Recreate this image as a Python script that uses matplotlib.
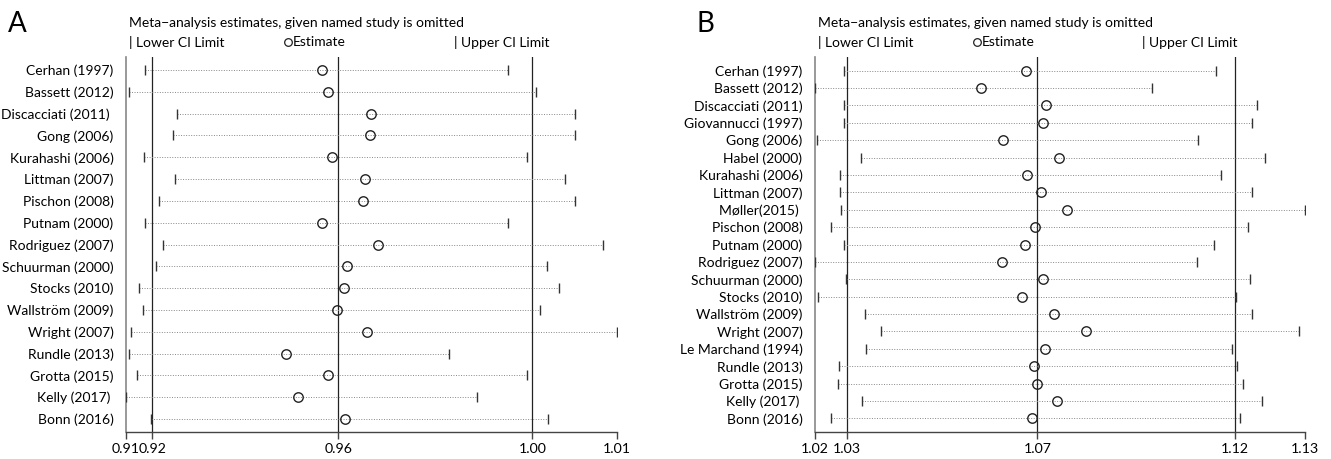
import matplotlib
matplotlib.use("Agg")
import matplotlib.pyplot as plt

plt.rcParams['font.family'] = ['Lato', 'DejaVu Sans']

# panel A: study omitted -> (lower CI, estimate, upper CI)
studies_a = ['Cerhan (1997)', 'Bassett (2012)', 'Discacciati (2011) ', 'Gong (2006)',
             'Kurahashi (2006)', 'Littman (2007)', 'Pischon (2008)', 'Putnam (2000)',
             'Rodriguez (2007)', 'Schuurman (2000)', 'Stocks (2010)', 'Wallström (2009)',
             'Wright (2007)', 'Rundle (2013)', 'Grotta (2015)', 'Kelly (2017) ', 'Bonn (2016)']
lower_a = [0.9144, 0.9112, 0.9212, 0.9203, 0.9143, 0.9207, 0.9175, 0.9145, 0.9182,
           0.9168, 0.9132, 0.9141, 0.9115, 0.9112, 0.9129, 0.9105, 0.9157]
est_a = [0.9518, 0.9531, 0.9621, 0.9618, 0.9538, 0.9609, 0.9604, 0.9518, 0.9635,
         0.9571, 0.9564, 0.9550, 0.9612, 0.9442, 0.9531, 0.9467, 0.9566]
upper_a = [0.9908, 0.9969, 1.0050, 1.0050, 0.9949, 1.0028, 1.0051, 0.9908, 1.0110,
           0.9992, 1.0016, 0.9976, 1.0138, 0.9784, 0.9949, 0.9844, 0.9993]
overall_a = [0.9160, 0.9552, 0.9960]  # lower, estimate, upper

# panel B
studies_b = ['Cerhan (1997)', 'Bassett (2012)', 'Discacciati (2011)', 'Giovannucci (1997)',
             'Gong (2006)', 'Habel (2000)', 'Kurahashi (2006)', 'Littman (2007)',
             'Møller(2015) ', 'Pischon (2008)', 'Putnam (2000)', 'Rodriguez (2007)',
             'Schuurman (2000)', 'Stocks (2010)', 'Wallström (2009)', 'Wright (2007)',
             'Le Marchand (1994)', 'Rundle (2013)', 'Grotta (2015)', 'Kelly (2017) ', 'Bonn (2016)']
lower_b = [1.0263, 1.0196, 1.0263, 1.0263, 1.0201, 1.0302, 1.0255, 1.0254, 1.0256,
           1.0233, 1.0264, 1.0197, 1.0267, 1.0202, 1.0311, 1.0349, 1.0314, 1.0252,
           1.0250, 1.0305, 1.0234]
est_b = [1.0686, 1.0581, 1.0733, 1.0726, 1.0633, 1.0762, 1.0688, 1.0721, 1.0781,
         1.0707, 1.0684, 1.0631, 1.0726, 1.0677, 1.0750, 1.0824, 1.0730, 1.0705,
         1.0711, 1.0758, 1.0699]
upper_b = [1.1126, 1.0978, 1.1222, 1.1209, 1.1085, 1.1241, 1.1139, 1.1211, 1.1333,
           1.1201, 1.1121, 1.1083, 1.1205, 1.1172, 1.1209, 1.1318, 1.1164, 1.1175,
           1.1190, 1.1232, 1.1182]
overall_b = [1.0270, 1.0712, 1.1170]

TITLE = 'Meta\u2212analysis estimates, given named study is omitted'
FS = 9.6


def influence_panel(fig, rect, letter, names, lo, est, hi, overall):
    ax = fig.add_axes(rect)
    n = len(names)
    ys = list(range(n))
    for y, l, e, h in zip(ys, lo, est, hi):
        ax.plot([l, h], [y, y], color='#888888', linestyle=(0, (1, 1.6)), lw=0.7, zorder=2)
    ax.plot(lo, ys, linestyle='none', marker='|', color='#333333', ms=7, mew=1.0, zorder=3)
    ax.plot(hi, ys, linestyle='none', marker='|', color='#333333', ms=7, mew=1.0, zorder=3)
    ax.plot(est, ys, linestyle='none', marker='o', mfc='none', mec='#222222', ms=6.8, mew=1.0, zorder=4)
    for v in overall:
        ax.axvline(v, color='#222222', lw=0.9, zorder=1)

    xmin, xmax = min(lo), max(hi)
    ax.set_xlim(xmin, xmax)
    extra = 0.18 if n > 20 else 0
    ax.set_ylim(n - 1 + 0.6 + extra, -0.6 - extra)
    ticks = [xmin, overall[0], overall[1], overall[2], xmax]
    ax.set_xticks(ticks)
    ax.set_xticklabels([f'{t:.2f}' for t in ticks], fontsize=10.2)
    ax.set_yticks(ys)
    ax.set_yticklabels(names, fontsize=FS + 0.4)
    ax.tick_params(axis='y', length=0, pad=9)
    ax.tick_params(axis='x', length=5, width=1, color='#444444', pad=3)
    for s in ['top', 'right']:
        ax.spines[s].set_visible(False)
    ax.spines['left'].set_color('#888888')
    ax.spines['left'].set_linewidth(1.2)
    ax.spines['bottom'].set_color('#444444')
    ax.spines['bottom'].set_linewidth(1.0)

    # title + legend above the plot
    ax.text(0.006, 1.091, TITLE, transform=ax.transAxes, fontsize=FS + 0.4, ha='left', va='center')
    ax.text(0.006, 1.04, '| Lower CI Limit', transform=ax.transAxes, fontsize=FS + 0.4, ha='left', va='center')
    ax.plot([0.331], [1.04], transform=ax.transAxes, marker='o', mfc='none', mec='#222222',
            ms=5.5, mew=0.9, clip_on=False)
    ax.text(0.34, 1.04, 'Estimate', transform=ax.transAxes, fontsize=FS + 0.4, ha='left', va='center')
    ax.text(0.668, 1.04, '| Upper CI Limit', transform=ax.transAxes, fontsize=FS + 0.4, ha='left', va='center')
    fig.text(rect[0] - 0.089, 0.948, letter, fontsize=20, ha='left', va='center')
    return ax


fig = plt.figure(figsize=(13.31, 4.59), dpi=100)
influence_panel(fig, [0.0947, 0.0588, 0.3687, 0.817], 'A', studies_a, lower_a, est_a, upper_a, overall_a)
influence_panel(fig, [0.6123, 0.0588, 0.3682, 0.817], 'B', studies_b, lower_b, est_b, upper_b, overall_b)
fig.savefig('out.png', dpi=100)
